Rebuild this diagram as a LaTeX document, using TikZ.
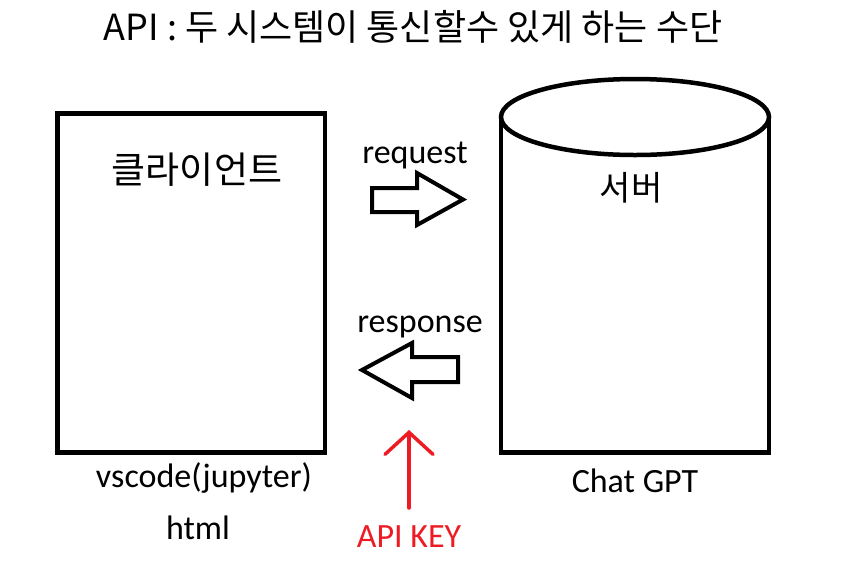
\documentclass[tikz,border=0pt]{standalone}
\usepackage{fontspec}
\setmainfont{Carlito}
\newfontfamily\kr{Noto Sans CJK KR}
\usetikzlibrary{arrows.meta}
\definecolor{paintred}{RGB}{237,28,36}
\tikzset{
  box/.style={draw=black, line width=4.5pt},
  blockarrow/.style={draw=black, line width=4pt, line join=miter, fill=white},
  krtext/.style={font=\kr\fontsize{36}{40}\selectfont, inner sep=0pt, anchor=base},
  entext/.style={font=\fontsize{34}{40}\selectfont, inner sep=0pt, anchor=base},
}
\begin{document}
\begin{tikzpicture}[x=1pt,y=-1pt]
\useasboundingbox (0,0) rectangle (845,563);
% title
\node[krtext] (title) at (413,40) {API : 두 시스템이 통신할수 있게 하는 수단};
% client box
\draw[box] (57.5,113.5) rectangle (325,452.5);
\node[krtext, font=\kr\fontsize{37}{40}\selectfont] (client) at (197,183) {클라이언트};
% server cylinder
\draw[box] (501,117) -- (501,452.5) -- (769,452.5) -- (769,117);
\draw[box] (635,117) ellipse [x radius=134, y radius=38];
\node[krtext, font=\kr\fontsize{34}{40}\selectfont] (server) at (631,200) {서버};
% request arrow
\draw[blockarrow] (372,188) -- (417,188) -- (417,173) -- (463,199.5) -- (417,225) -- (417,212) -- (372,212) -- cycle;
\node[entext] (req) at (415,163) {request};
% response arrow
\draw[blockarrow] (458,357) -- (412,357) -- (412,343) -- (362,370) -- (412,398) -- (412,382) -- (458,382) -- cycle;
\node[entext] (resp) at (420,332) {response};
% labels
\node[entext] (vs) at (204,487) {vscode(jupyter)};
\node[entext] (html) at (198,539) {html};
\node[entext] (gpt) at (635,492) {Chat GPT};
% API KEY
\node[entext, text=paintred] (key) at (409,547) {API KEY};
\coordinate (keytop) at (409,430);
\coordinate (keybot) at (409,508);
\draw[paintred, line width=3.5pt, line cap=round, -{Straight Barb[length=22pt, width=48pt, line cap=round]}] (keybot) -- (keytop);
\end{tikzpicture}
\end{document}
